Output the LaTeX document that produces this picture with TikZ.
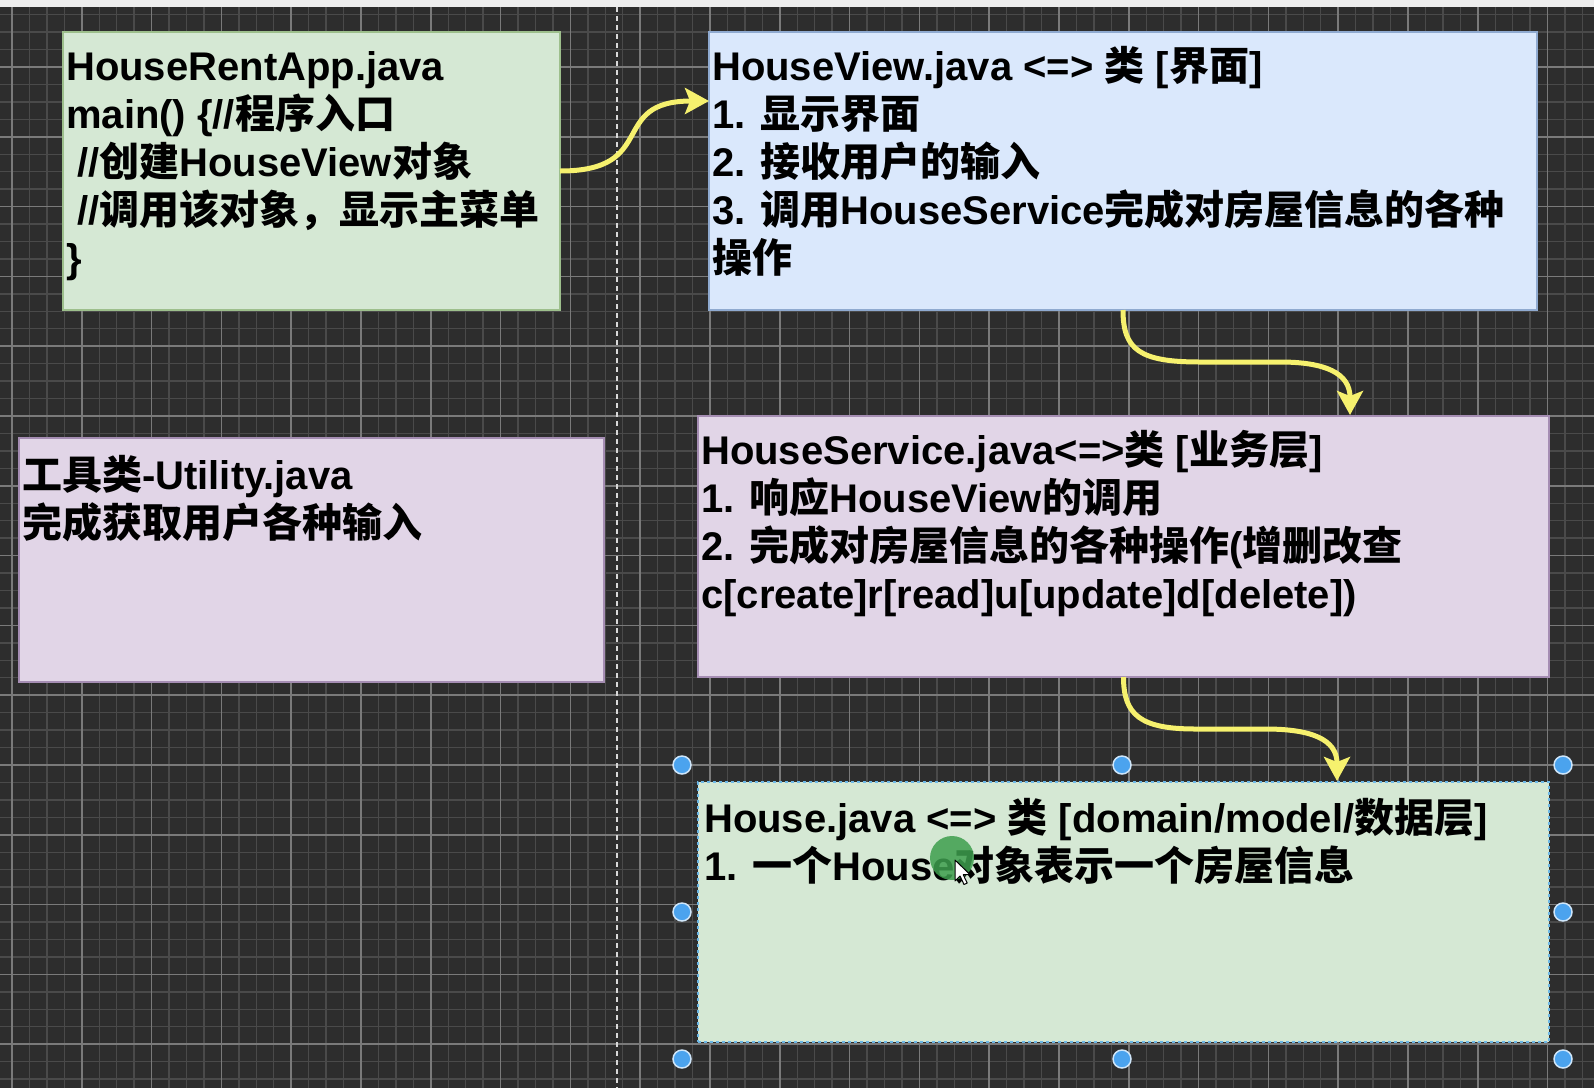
\documentclass[tikz,border=0pt]{standalone}
\usepackage{fontspec}
\setmainfont{Liberation Sans}
\newfontfamily\cjk{Noto Sans CJK SC}
\usetikzlibrary{arrows.meta,calc}
\definecolor{bgc}{HTML}{2D2D2D}
\definecolor{gminorc}{HTML}{4A4A4A}
\definecolor{gmajorc}{HTML}{7A7A7A}
\definecolor{topc}{HTML}{EEEEEE}
\definecolor{greenfill}{HTML}{D5E8D4}
\definecolor{greenline}{HTML}{9DBF8C}
\definecolor{bluefill}{HTML}{DAE8FC}
\definecolor{blueline}{HTML}{8FAAD0}
\definecolor{purplefill}{HTML}{E1D5E7}
\definecolor{purpleline}{HTML}{A58DB3}
\definecolor{arrowyellow}{HTML}{F6F16E}
\definecolor{handlec}{HTML}{4BA3EE}
\definecolor{handleline}{HTML}{CFE6FA}
\definecolor{selc}{HTML}{6DB8E6}
\definecolor{clickc}{HTML}{3E9E4E}
\newcommand\zh[1]{{\cjk #1}}
\begin{document}
\begin{tikzpicture}[x=1pt,y=-1pt,
  gminor/.style={draw=gminorc,line width=1.4pt},
  gmajor/.style={draw=gmajorc,line width=1.6pt},
  boxnode/.style={rectangle,anchor=north west,inner sep=0pt,outer sep=0pt,line width=1.5pt},
  txt/.style={anchor=north west,inner sep=0pt,align=left,font=\bfseries\fontsize{40}{48}\selectfont,text=black},
  conn/.style={draw=arrowyellow,line width=5pt,-{Stealth[length=24pt,width=26pt,inset=5pt]}},
  handle/.style={circle,fill=handlec,draw=handleline,line width=1.5pt,minimum size=18pt,inner sep=0pt}
]
\useasboundingbox (0,0) rectangle (1594,1088);
% background
\fill[bgc] (0,0) rectangle (1594,1088);
\fill[topc] (0,0) rectangle (1594,7);
\begin{scope}
\clip (0,7) rectangle (1594,1088);
\foreach \i in {0,...,92} \draw[gminor] ({-5.45+17.45*\i},7) -- ++(0,1081);
\foreach \i in {0,...,62} \draw[gminor] (0,{14.65+17.45*\i}) -- ++(1594,0);
\foreach \i in {0,...,22} \draw[gmajor] ({12+69.8*\i},7) -- ++(0,1081);
\foreach \i in {0,...,14} \draw[gmajor] (0,{67+69.8*\i}) -- ++(1594,0);
\end{scope}
\draw[draw=white!85!black,line width=1.5pt,dash pattern=on 5pt off 4pt] (617,7) -- (617,1088);

% boxes
\node[boxnode,fill=greenfill,draw=greenline,minimum width=497pt,minimum height=278pt] (app) at (63,32) {};
\node[boxnode,fill=bluefill,draw=blueline,minimum width=828pt,minimum height=278pt] (view) at (709,32) {};
\node[boxnode,fill=purplefill,draw=purpleline,minimum width=585pt,minimum height=244pt] (util) at (19,438) {};
\node[boxnode,fill=purplefill,draw=purpleline,minimum width=851pt,minimum height=261pt] (service) at (698,416) {};
\node[boxnode,fill=greenfill,draw=selc,dash pattern=on 3pt off 3pt,minimum width=851pt,minimum height=260pt] (house) at (698,782) {};

% texts
\node[txt] (tapp) at ($(app.north west)+(3,10)$) {\rule{0pt}{38pt}HouseRentApp.java\\
main() \{//\zh{程序入口}\\
\hspace*{11pt}//\zh{创建}HouseView\zh{对象}\\
\hspace*{11pt}//\zh{调用该对象，显示主菜单}\\
\}};
\node[txt] (tview) at ($(view.north west)+(3,10)$) {\rule{0pt}{38pt}HouseView.java <=> \zh{类} [\zh{界面}]\\
1. \zh{显示界面}\\
2. \zh{接收用户的输入}\\
3. \zh{调用}HouseService\zh{完成对房屋信息的各种}\\
\zh{操作}};
\node[txt] (tutil) at ($(util.north west)+(3,13)$) {\rule{0pt}{38pt}\zh{工具类}-Utility.java\\
\zh{完成获取用户各种输入}};
\node[txt] (tservice) at ($(service.north west)+(3,10)$) {\rule{0pt}{38pt}HouseService.java<=>\zh{类} [\zh{业务层}]\\
1. \zh{响应}HouseView\zh{的调用}\\
2. \zh{完成对房屋信息的各种操作}(\zh{增删改查}\\
c[create]r[read]u[update]d[delete])};
\node[txt] (thouse) at ($(house.north west)+(6,12)$) {\rule{0pt}{38pt}House.java <=> \zh{类} [domain/model/\zh{数据层}]\\
1. \zh{一个}House\zh{对象表示一个房屋信息}};

% connectors
\coordinate (e1) at ($(view.north west)+(0,69)$);
\coordinate (e2) at ($(service.north west)+(652,-1)$);
\coordinate (e3) at ($(house.north west)+(639,-1)$);
\draw[conn] (app.east) .. controls +(100,0) and +(-102,0) .. (e1);
\draw[conn] (view.south) .. controls +(0,40) and +(-60,0) .. ($(view.south)+(77,52)$)
  -- ($(view.south)+(157,52)$) .. controls +(45,0) and +(0,-42) .. (e2);
\draw[conn] (service.south) .. controls +(0,38) and +(-55,0) .. ($(service.south)+(72,52)$)
  -- ($(service.south)+(142,52)$) .. controls +(45,0) and +(0,-42) .. (e3);

% selection handles
\node[handle] (h1) at (682,765) {};
\node[handle] (h2) at (1122,765) {};
\node[handle] (h3) at (1563,765) {};
\node[handle] (h4) at (682,912) {};
\node[handle] (h5) at (1563,912) {};
\node[handle] (h6) at (682,1059) {};
\node[handle] (h7) at (1122,1059) {};
\node[handle] (h8) at (1563,1059) {};

% click marker and cursor
\fill[clickc,opacity=0.85] (952,858) circle (22pt);
\draw[fill=white,draw=black,line width=1pt,line join=round] (955,860) -- ++(0,21) -- ++(5,-5) -- ++(4,8.5) -- ++(3.2,-1.5) -- ++(-4,-8.3) -- ++(7,0) -- cycle;
\end{tikzpicture}
\end{document}
